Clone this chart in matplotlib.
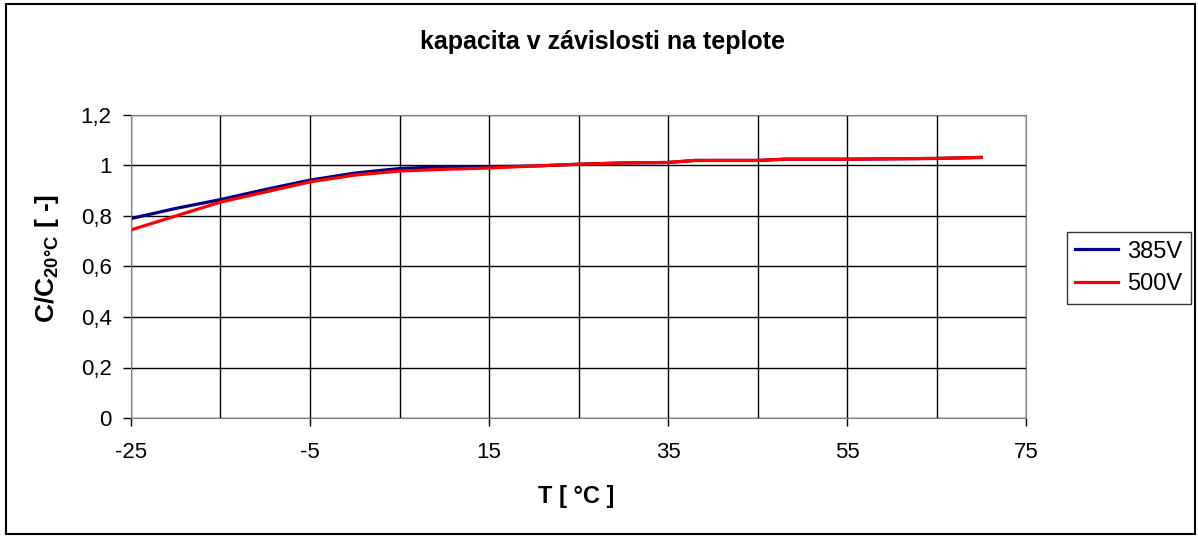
import matplotlib.pyplot as plt
from matplotlib.ticker import FixedLocator, MultipleLocator, FuncFormatter
from matplotlib.patches import Rectangle

# hodnoty
teplota = [-25, -20, -15, -10, -5, 0, 5, 10, 15, 20, 25, 30, 35, 38, 45, 48, 55, 65, 70]
c_385 = [0.79, 0.83, 0.865, 0.905, 0.942, 0.970, 0.988, 0.995, 0.995, 0.998, 1.005, 1.010,
         1.012, 1.020, 1.020, 1.025, 1.025, 1.028, 1.032]
c_500 = [0.745, 0.80, 0.855, 0.895, 0.935, 0.962, 0.978, 0.985, 0.990, 0.998, 1.005, 1.010,
         1.012, 1.020, 1.020, 1.025, 1.025, 1.028, 1.032]
x_popisky = [-25, -5, 15, 35, 55, 75]

plt.rcParams['font.family'] = ['Liberation Sans', 'DejaVu Sans']
plt.rcParams['mathtext.fontset'] = 'custom'
plt.rcParams['mathtext.rm'] = 'Liberation Sans:bold'

W, H = 1198, 536
fig = plt.figure(figsize=(W/100, H/100), dpi=100)
ax = fig.add_axes([131/W, 1-418/H, (1026-131)/W, (418-115)/H])

ax.plot(teplota, c_385, color='#000080', lw=2.3, label='385V')
ax.plot(teplota, c_500, color='#ff0000', lw=2.3, label='500V')

ax.set_xlim(-25, 75)
ax.set_ylim(0, 1.2)
ax.xaxis.set_major_locator(FixedLocator(x_popisky))
ax.xaxis.set_minor_locator(FixedLocator([-15, 5, 25, 45, 65]))
ax.xaxis.set_major_formatter(FuncFormatter(lambda v, p: '%d' % v))
ax.yaxis.set_major_locator(MultipleLocator(0.2))
ax.yaxis.set_major_formatter(FuncFormatter(lambda v, p: ('%g' % round(v, 1)).replace('.', ',')))
ax.grid(True, which='both', color='black', lw=1)
ax.set_axisbelow(True)
ax.tick_params(axis='both', which='major', direction='out', length=6, labelsize=16, width=1)
ax.tick_params(axis='x', which='minor', length=0)
ax.tick_params(axis='x', pad=11)
ax.tick_params(axis='y', pad=8)
for s in ax.spines.values():
    s.set_color('#808080')

fig.text(602/W, 1-42/H, 'kapacita v závislosti na teplote', fontsize=18, fontweight='bold',
         ha='center', va='center')
fig.text(576/W, 1-497/H, 'T [ °C ]', fontsize=17, fontweight='bold', ha='center', va='center')
fig.text(47/W, 1-258/H, r'C/C$_{\mathrm{20°C}}$ [ -]', fontsize=19, fontweight='bold',
         ha='center', va='center', rotation=90)

leg = ax.legend(loc='center left', bbox_to_anchor=(1067/W, 1-268/H), bbox_transform=fig.transFigure,
                fontsize=17, frameon=True, fancybox=False, edgecolor='black', handlelength=1.8,
                handletextpad=0.4, borderpad=0.35, labelspacing=0.45, borderaxespad=0)
leg.get_frame().set_linewidth(1)

fig.patches.append(Rectangle((6/W, 2/H), 1189/W, 530/H, transform=fig.transFigure,
                             fill=False, edgecolor='black', lw=1.5))

fig.savefig('out.png', dpi=100)
